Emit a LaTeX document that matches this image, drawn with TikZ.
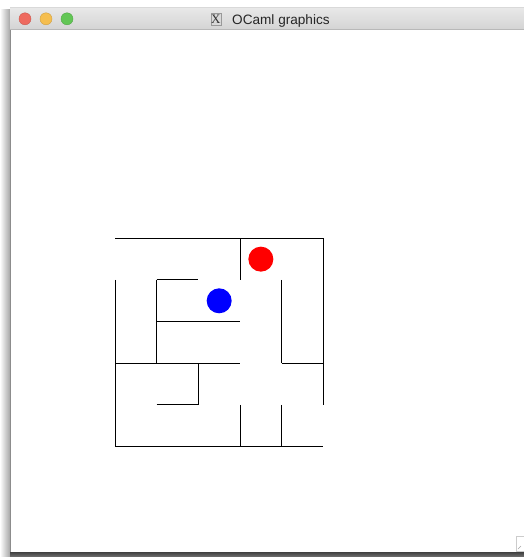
\documentclass[tikz,border=0pt]{standalone}
\usepackage{fontspec}
\setmainfont{Liberation Sans}
\newfontfamily\iconfont{Liberation Serif}
\usetikzlibrary{positioning}
\definecolor{barTop}{HTML}{E9E9E9}
\definecolor{barBottom}{HTML}{D4D4D4}
\definecolor{barLine}{HTML}{B8B8B8}
\definecolor{lightRed}{HTML}{EE6A5F}
\definecolor{lightYellow}{HTML}{F5BE4F}
\definecolor{lightGreen}{HTML}{62C655}
\tikzset{
    wall/.style={line width=1pt, black},
    light/.style={circle, minimum size=12pt, inner sep=0pt},
    token/.style={circle, minimum size=25pt, inner sep=0pt},
}

\begin{document}
\begin{tikzpicture}[x=1pt, y=-1pt]
\useasboundingbox (0,0) rectangle (524,557);
% window frame
\shade[left color=white, right color=black!35] (0,9) rectangle (10,557);
\shade[top color=black!75, bottom color=black!55] (10,552) rectangle (524,557);
\fill[white] (10,7) rectangle (524,552);
\draw[black!45, line width=0.8pt] (10,7) -- (10,552);
\shade[top color=barTop, bottom color=barBottom] (10,7) rectangle (524,29);
\draw[barLine, line width=0.8pt] (10,29.5) -- (524,29.5);
\draw[black!15, line width=0.6pt] (10,7.3) -- (524,7.3);
\foreach \c/\x in {lightRed/25, lightYellow/46, lightGreen/67} {
    \node[light, fill=\c, draw=\c!85!black, line width=0.4pt] (btn\x) at (\x,18.8) {};
}
\node[draw=black!40, fill=black!15, minimum width=10pt, minimum height=12pt,
      inner sep=0pt, text=black!80, font=\iconfont\fontsize{13}{13}\selectfont] (icon) at (215.7,19.3) {X};
\node[inner sep=0pt, anchor=base west, font=\fontsize{13.6}{14}\selectfont,
      text=black!85] (title) at (232,24.3) {OCaml graphics};
\draw[black!20, fill=white] (516,536) rectangle (524,551.5);
\draw[black!35] (518,549) -- (521,546);
% maze
\begin{scope}[shift={(115,238.3)}, x=41.67pt, y=-41.67pt]
\foreach \p/\q in {{(0,0)}/{(5,0)}, {(3,0)}/{(3,1)}, {(5,0)}/{(5,4)}, {(0,1)}/{(0,5)},
                   {(1,1)}/{(2,1)}, {(1,1)}/{(1,3)}, {(1,2)}/{(3,2)}, {(4,1)}/{(4,3)},
                   {(0,3)}/{(3,3)}, {(4,3)}/{(5,3)}, {(2,3)}/{(2,4)}, {(1,4)}/{(2,4)},
                   {(3,4)}/{(3,5)}, {(4,4)}/{(4,5)}, {(0,5)}/{(5,5)}} {
    \draw[wall] \p -- \q;
}
\node[token, fill=red] (redBall) at (3.5,0.5) {};
\node[token, fill=blue] (blueBall) at (2.5,1.5) {};
\end{scope}
\end{tikzpicture}
\end{document}
